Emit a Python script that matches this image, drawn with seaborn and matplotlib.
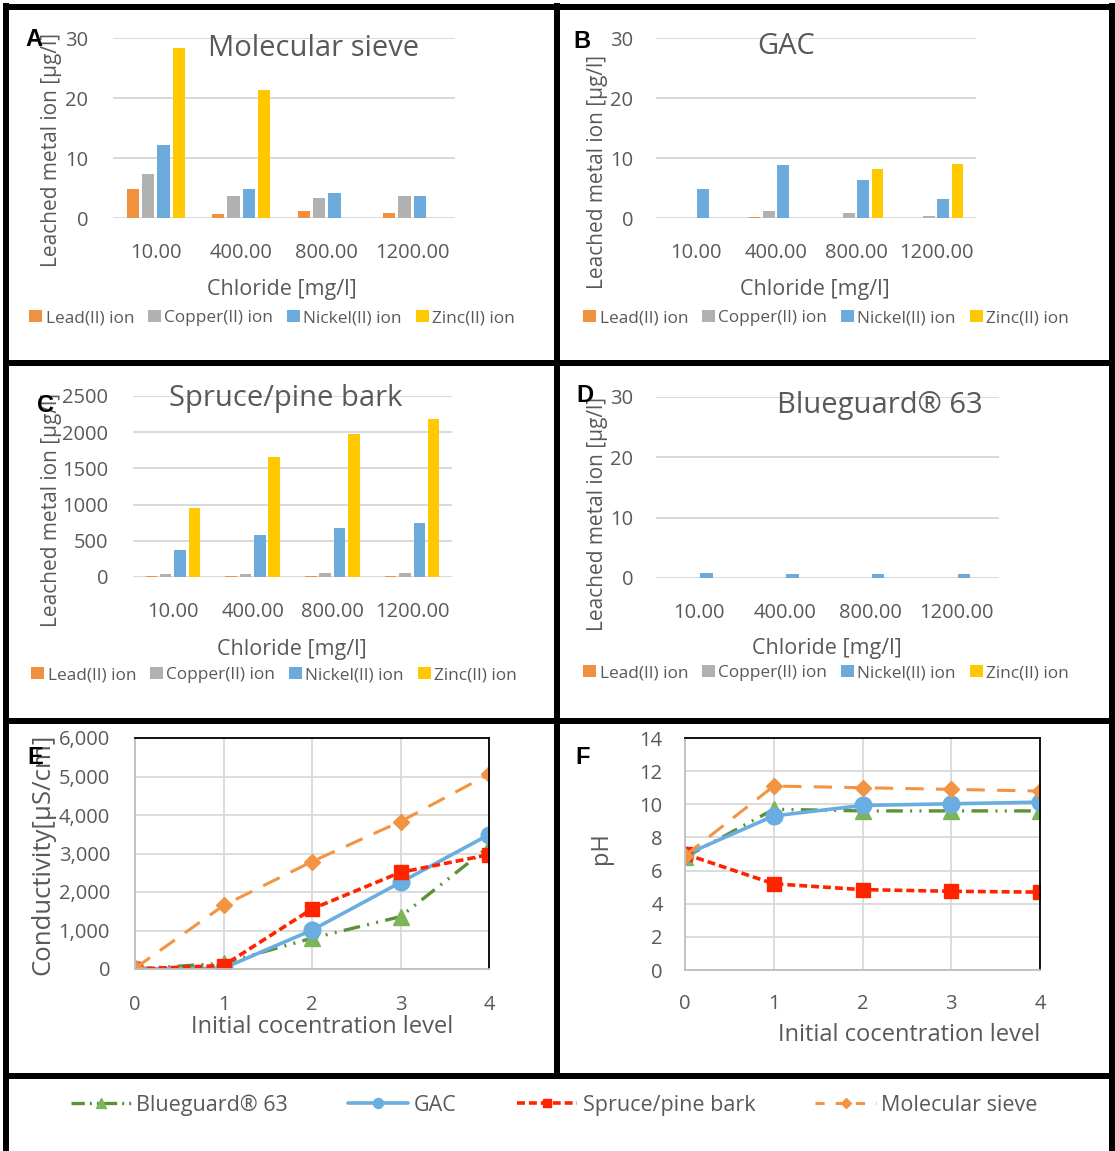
import numpy as np
import pandas as pd
import matplotlib
matplotlib.use("Agg")
import matplotlib.pyplot as plt
from matplotlib.lines import Line2D
from matplotlib.ticker import StrMethodFormatter, MultipleLocator
import seaborn as sns

# ---------------- data ----------------
chloride = ["10.00", "400.00", "800.00", "1200.00"]
ions = ["Lead(II) ion", "Copper(II) ion", "Nickel(II) ion", "Zinc(II) ion"]
ion_colors = ["#F0913F", "#B1B1B1", "#6DAADC", "#FFC800"]

mol_lead = [4.8, 0.7, 1.2, 0.8]
mol_copper = [7.3, 3.6, 3.4, 3.6]
mol_nickel = [12.1, 4.9, 4.1, 3.7]
mol_zinc = [28.4, 21.3, 0.0, 0.0]

gac_lead = [0.0, 0.1, 0.0, 0.0]
gac_copper = [0.0, 1.2, 0.9, 0.4]
gac_nickel = [4.8, 8.8, 6.4, 3.2]
gac_zinc = [0.0, 0.0, 8.1, 9.0]

bark_lead = [12, 18, 18, 18]
bark_copper = [45, 48, 58, 60]
bark_nickel = [378, 580, 677, 746]
bark_zinc = [953, 1657, 1980, 2178]

blg_lead = [0.0, 0.0, 0.0, 0.0]
blg_copper = [0.0, 0.0, 0.0, 0.0]
blg_nickel = [0.8, 0.7, 0.6, 0.7]
blg_zinc = [0.0, 0.0, 0.0, 0.0]

levels = [0, 1, 2, 3, 4]
materials = ["Blueguard® 63", "GAC", "Spruce/pine bark", "Molecular sieve"]
cond_blueguard = [0, 150, 800, 1360, 3180]
cond_gac = [0, 20, 1010, 2250, 3490]
cond_bark = [0, 90, 1560, 2510, 2970]
cond_sieve = [20, 1650, 2790, 3830, 5060]
ph_blueguard = [6.8, 9.7, 9.6, 9.6, 9.6]
ph_gac = [6.95, 9.3, 9.93, 10.03, 10.13]
ph_bark = [7.0, 5.2, 4.85, 4.75, 4.7]
ph_sieve = [6.9, 11.1, 11.0, 10.9, 10.8]

# ---------------- style ----------------
sns.set_theme(style="white")
TXT = "#595959"
plt.rcParams["font.family"] = ["Open Sans", "DejaVu Sans"]
plt.rcParams["text.color"] = TXT
plt.rcParams["axes.labelcolor"] = TXT
plt.rcParams["xtick.color"] = TXT
plt.rcParams["ytick.color"] = TXT

W, H = 1115, 1151
fig = plt.figure(figsize=(W / 100, H / 100), dpi=100)


def rect(x0, y0, x1, y1):
    return [x0 / W, 1 - y1 / H, (x1 - x0) / W, (y1 - y0) / H]


def fx(x):
    return x / W


def fy(y):
    return 1 - y / H


def ax_coords(box, x, y):
    x0, y0, x1, y1 = box
    return (x - x0) / (x1 - x0), (y1 - y) / (y1 - y0)


def bar_panel(box, vals, ymax, step, title, title_xy, letter, letter_xy,
              ylab_xy, xlab_xy, leg_xy, ypad, xpad):
    ax = fig.add_axes(rect(*box))
    df = pd.DataFrame({
        "Chloride": chloride * 4,
        "Ion": np.repeat(ions, 4),
        "Value": np.concatenate([np.asarray(v, float) for v in vals]),
    })
    sns.barplot(data=df, x="Chloride", y="Value", hue="Ion", order=chloride,
                hue_order=ions, palette=dict(zip(ions, ion_colors)),
                width=0.72, gap=0.2, saturation=1, errorbar=None, ax=ax,
                linewidth=0)
    ax.set_ylim(0, ymax)
    ax.yaxis.set_major_locator(MultipleLocator(step))
    ax.set_axisbelow(True)
    ax.yaxis.grid(True, color="#D9D9D9", lw=1.4)
    ax.xaxis.grid(False)
    for s in ax.spines.values():
        s.set_visible(False)
    ax.tick_params(axis="y", length=0, pad=ypad, labelsize=14.5)
    ax.tick_params(axis="x", length=0, pad=xpad, labelsize=14.5)
    ax.set_xlabel("Chloride [mg/l]", fontsize=15.5)
    ax.xaxis.set_label_coords(*ax_coords(box, *xlab_xy))
    ax.xaxis.label.set_verticalalignment("center")
    ax.set_ylabel("Leached metal ion [µg/l]", fontsize=15)
    ax.yaxis.set_label_coords(*ax_coords(box, *ylab_xy))
    ax.yaxis.label.set_verticalalignment("center")
    leg = ax.get_legend()
    handles = leg.legend_handles
    labels = [t.get_text() for t in leg.get_texts()]
    leg.remove()
    ax.legend(handles, labels, loc="center", bbox_to_anchor=(fx(leg_xy[0]), fy(leg_xy[1])),
              bbox_transform=fig.transFigure, ncol=4, frameon=False, fontsize=12.4,
              handlelength=0.75, handleheight=0.75, handletextpad=0.2,
              columnspacing=0.8, borderpad=0, labelcolor=TXT)
    fig.text(fx(title_xy[0]), fy(title_xy[1]), title, fontsize=21, color=TXT,
             ha="center", va="center")
    fig.text(fx(letter_xy[0]), fy(letter_xy[1]), letter, fontsize=17, color="black",
             fontweight="bold", family=["Liberation Sans", "DejaVu Sans"],
             ha="center", va="center")
    return ax


bar_panel((113, 38, 455, 218), [mol_lead, mol_copper, mol_nickel, mol_zinc], 30, 10,
          "Molecular sieve", (314, 49), "A", (34, 39), (52, 150), (282, 290), (272, 318), 18, 18)
bar_panel((656, 38, 976, 218), [gac_lead, gac_copper, gac_nickel, gac_zinc], 30, 10,
          "GAC", (786, 47), "B", (582, 42), (597, 172), (815, 290), (826, 318), 16.5, 18)
bar_panel((133, 396, 452, 577), [bark_lead, bark_copper, bark_nickel, bark_zinc], 2500, 500,
          "Spruce/pine bark", (286, 398), "C", (46, 405), (52, 510), (292, 650), (274, 675), 18, 18)
bar_panel((656, 397, 999, 578), [blg_lead, blg_copper, blg_nickel, blg_zinc], 30, 10,
          "Blueguard® 63", (880, 406), "D", (585, 396), (597, 514), (827, 649), (826, 673), 16.5, 18)

# ---------------- line panels ----------------
line_styles = [
    dict(color="#5B9137", marker="^", markersize=11, markerfacecolor="#7DB55A",
         markeredgecolor="#7DB55A", lw=2.4, linestyle=(0, (5, 2.2, 0.6, 2.2, 0.6, 2.2))),
    dict(color="#6AADE0", marker="o", markersize=12, markerfacecolor="#6AADE0",
         markeredgecolor="#6AADE0", lw=2.6, linestyle="-"),
    dict(color="#FF2400", marker="s", markersize=10, markerfacecolor="#FF2400",
         markeredgecolor="#FF2400", lw=2.6, linestyle=(0, (2.2, 1.1))),
    dict(color="#F39442", marker="D", markersize=8, markerfacecolor="#F39442",
         markeredgecolor="#F39442", lw=2.2, linestyle=(0, (6, 4))),
]


def line_panel(box, series, ymax, step, fmt, ylabel, ylab_xy, ylab_size, xlab_xy,
               letter, letter_xy, ypad, xpad):
    ax = fig.add_axes(rect(*box))
    for name, vals, st in zip(materials, series, line_styles):
        sns.lineplot(x=levels, y=vals, ax=ax, label=name, legend=False,
                     errorbar=None, markeredgewidth=1, **st)
    ax.set_xlim(0, 4)
    ax.set_ylim(0, ymax)
    ax.xaxis.set_major_locator(MultipleLocator(1))
    ax.yaxis.set_major_locator(MultipleLocator(step))
    ax.yaxis.set_major_formatter(StrMethodFormatter(fmt))
    ax.set_axisbelow(True)
    ax.grid(True, color="#D9D9D9", lw=1.3)
    for k in ["left", "bottom"]:
        ax.spines[k].set_color("#BFBFBF")
        ax.spines[k].set_linewidth(1.3)
    for k in ["top", "right"]:
        ax.spines[k].set_color("black")
        ax.spines[k].set_linewidth(1.3)
    ax.tick_params(axis="y", length=0, pad=ypad, labelsize=14.5)
    ax.tick_params(axis="x", length=0, pad=xpad, labelsize=14.5)
    ax.set_xlabel("Initial cocentration level", fontsize=17)
    ax.xaxis.set_label_coords(*ax_coords(box, *xlab_xy))
    ax.xaxis.label.set_verticalalignment("center")
    ax.set_ylabel(ylabel, fontsize=ylab_size)
    ax.yaxis.set_label_coords(*ax_coords(box, *ylab_xy))
    ax.yaxis.label.set_verticalalignment("center")
    fig.text(fx(letter_xy[0]), fy(letter_xy[1]), letter, fontsize=17, color="black",
             fontweight="bold", family=["Liberation Sans", "DejaVu Sans"],
             ha="center", va="center")
    return ax


axE = line_panel((135, 738, 489, 969), [cond_blueguard, cond_gac, cond_bark, cond_sieve],
                 6000, 1000, "{x:,.0f}", "Conductivity[µS/cm]", (43, 854), 18.5, (322, 1027),
                 "E", (35, 757), 18, 19)
axF = line_panel((685, 738, 1040, 970), [ph_blueguard, ph_gac, ph_bark, ph_sieve],
                 14, 2, "{x:.0f}", "pH", (601, 848), 17, (909, 1035),
                 "F", (583, 758), 16, 17)

handles, labels = axE.get_legend_handles_labels()
leg = fig.legend(handles, labels, loc="center", bbox_to_anchor=(fx(554), fy(1105)),
                 bbox_transform=fig.transFigure, ncol=4, frameon=False, fontsize=15.5,
                 handlelength=2.8, handletextpad=0.25, columnspacing=2.8, labelcolor=TXT,
                 numpoints=1, markerscale=0.6)
# legend-only dash patterns so each sample ends on a dash next to its text
leg.legend_handles[0].set_linestyle((0, (4, 1.5, 0.6, 1.5, 0.6, 1.5)))
leg.legend_handles[3].set_linestyle((0, (3, 3.6)))

# ---------------- cell borders ----------------
BW = 6 * 0.72
segs = [
    ((3, 6.5), (1115, 6.5)),
    ((6, 3), (6, 1151)),
    ((1112, 3), (1112, 1151)),
    ((557, 3), (557, 1076)),
    ((3, 363), (1115, 363)),
    ((3, 721), (1115, 721)),
    ((3, 1076), (1115, 1076)),
]
for (x0, y0), (x1, y1) in segs:
    fig.add_artist(Line2D([fx(x0), fx(x1)], [fy(y0), fy(y1)], color="black",
                          lw=BW, transform=fig.transFigure, solid_capstyle="butt"))

fig.savefig("out.png", dpi=100)
